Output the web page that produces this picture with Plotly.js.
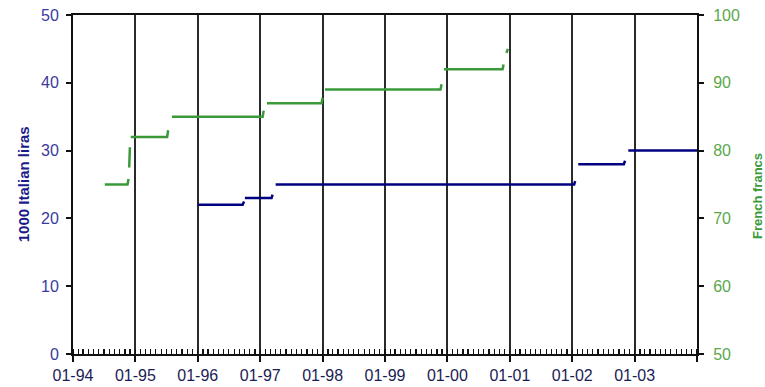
<!DOCTYPE html>
<html>
<head>
<meta charset="utf-8">
<script src="https://cdn.plot.ly/plotly-3.0.1.min.js"></script>
<style>html,body{margin:0;padding:0;background:#fff;}#chart{width:765px;height:387px;}</style>
</head>
<body>
<div id="chart"></div>
<script>
// Year tick positions and labels
const yearTicks = ['1994-01-01','1995-01-01','1996-01-01','1997-01-01','1998-01-01','1999-01-01','2000-01-01','2001-01-01','2002-01-01','2003-01-01','2004-01-01'];
const yearLabels = ['01-94','01-95','01-96','01-97','01-98','01-99','01-00','01-01','01-02','01-03',''];

// Italian liras (thousands), left axis — null values break the line between steps
const liraDates = ['1996-01-01','1996-09-20','1996-09-28','1996-09-30','1996-10-03','1997-03-08','1997-03-14','1997-03-20','1997-04-01','2002-01-12','2002-01-18','2002-01-25','2002-02-05','2002-10-30','2002-11-06','2002-11-15','2002-11-25','2004-01-01'];
const liraValues = [22,22,22.5,null,23,23,23.5,null,25,25,25.5,null,28,28,28.5,null,30,30];

// French francs, right axis
const francDates = ['1994-07-06','1994-11-16','1994-11-22','1994-11-23','1994-11-26','1994-11-30','1994-12-02','1994-12-05','1995-07-06','1995-07-12','1995-07-20','1995-08-03','1997-01-15','1997-01-21','1997-01-30','1997-02-09','1997-12-26','1998-01-01','1998-01-08','1998-01-15','1999-11-22','1999-11-28','1999-12-05','1999-12-12','2000-11-19','2000-11-25','2000-12-02','2000-12-12','2000-12-20'];
const francValues = [75,75,75.8,null,77.5,80.5,null,82,82,83,null,85,85,85.9,null,87,87,87.8,null,89,89,89.8,null,92,92,92.7,null,94.4,95];

const FONT = 'Liberation Sans, Arial, sans-serif';

const traces = [
  {x: liraDates, y: liraValues, type:'scatter', mode:'lines', yaxis:'y',
   line:{color:'#000080', width:2.5}, connectgaps:false, hoverinfo:'skip'},
  {x: francDates, y: francValues, type:'scatter', mode:'lines', yaxis:'y2',
   line:{color:'#3a9a3a', width:2.5}, connectgaps:false, hoverinfo:'skip'}
];

const layout = {
  width:765, height:387,
  margin:{l:73, r:68, t:15, b:33, pad:0},
  paper_bgcolor:'#fff', plot_bgcolor:'#fff',
  showlegend:false,
  font:{family:FONT},
  xaxis:{
    type:'date', range:['1994-01-01','2004-01-01'],
    tickmode:'array', tickvals:yearTicks, ticktext:yearLabels,
    ticks:'outside', ticklen:6, tickwidth:2, tickcolor:'#111',
    showgrid:true, gridcolor:'#2a2a2a', gridwidth:2,
    showline:true, linecolor:'#111', linewidth:2, mirror:true,
    zeroline:false,
    tickfont:{family:FONT, size:16, color:'#1c1c55'},
    minor:{dtick:'M1', tick0:'1994-01-01', ticks:'inside', ticklen:5, tickwidth:1.2, tickcolor:'#111', showgrid:false}
  },
  yaxis:{
    range:[0,50], dtick:10, tick0:0,
    ticks:'outside', ticklen:5, tickwidth:2, tickcolor:'#111',
    showline:true, linecolor:'#111', linewidth:2,
    showgrid:false, zeroline:false,
    ticklabelstandoff:4,
    tickfont:{family:FONT, size:16, color:'#3a3aa0'}
  },
  yaxis3:{
    overlaying:'y', side:'left', range:[0,50], dtick:10, tick0:0,
    ticks:'inside', ticklen:5, tickwidth:2, tickcolor:'#111',
    showticklabels:false, showline:false, showgrid:false, zeroline:false
  },
  yaxis2:{
    overlaying:'y', side:'right', range:[50,100], dtick:10, tick0:50,
    ticks:'outside', ticklen:5, tickwidth:2, tickcolor:'#111',
    showline:true, linecolor:'#111', linewidth:2,
    showgrid:false, zeroline:false,
    ticklabelstandoff:6,
    tickfont:{family:FONT, size:16, color:'#5aa84a'}
  },
  yaxis4:{
    overlaying:'y', side:'right', range:[50,100], dtick:10, tick0:50,
    ticks:'inside', ticklen:5, tickwidth:2, tickcolor:'#111',
    showticklabels:false, showline:false, showgrid:false, zeroline:false
  },
  annotations:[
    {text:'<b>1000 Italian liras</b>', xref:'paper', yref:'paper', x:-0.080, y:0.501,
     xanchor:'center', yanchor:'middle', textangle:-90, showarrow:false,
     font:{family:FONT, size:15, color:'#1a1a8a'}},
    {text:'<b>French francs</b>', xref:'paper', yref:'paper', x:1.096, y:0.466,
     xanchor:'center', yanchor:'middle', textangle:-90, showarrow:false,
     font:{family:FONT, size:13, color:'#3a9a3a'}}
  ]
};

Plotly.newPlot('chart', traces, layout, {staticPlot:true, displayModeBar:false});
</script>
</body>
</html>
